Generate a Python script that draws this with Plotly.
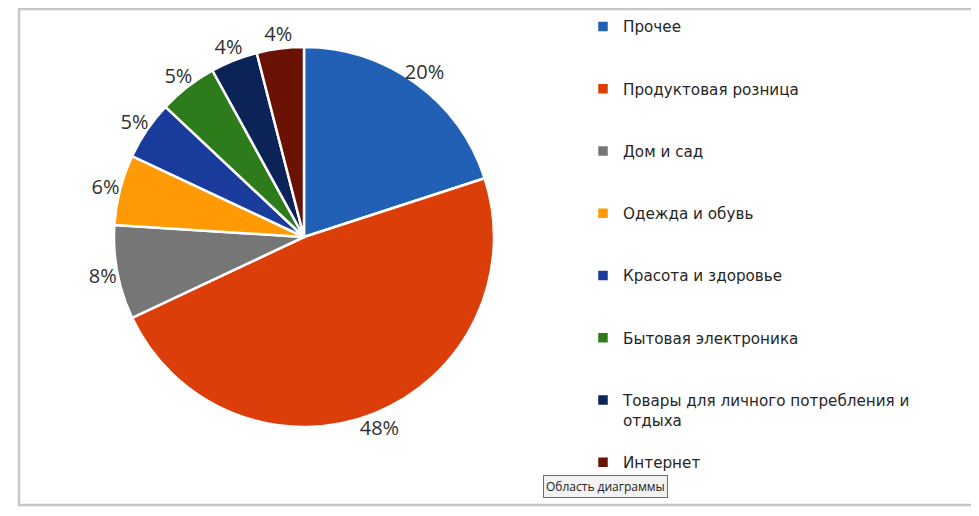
import plotly.graph_objects as go

categories = ['Прочее', 'Продуктовая розница', 'Дом и сад', 'Одежда и обувь',
              'Красота и здоровье', 'Бытовая электроника',
              'Товары для личного потребления и отдыха', 'Интернет']
shares = [20, 48, 8, 6, 5, 5, 4, 4]
colors = ['#2160b4', '#dc3e0a', '#767676', '#ff9a05',
          '#183b9c', '#2e7b1c', '#0b2357', '#6a1304']

W, H = 979, 516
# the page adds an 8px body margin, so everything is placed 8px up/left
cx, cy, r = 296, 229, 190      # pie centre and radius in figure pixels
r_txt = 229                    # outer radius of the ring that carries the % labels

# legend labels: wrap the long one, pad every entry to three lines
legend_labels = []
for i, c in enumerate(categories):
    if c.startswith('Товары'):
        txt = 'Товары для личного потребления и<br>отдыха'
    else:
        txt = c + '<br> '
    if i < len(categories) - 1:
        txt += '<br> '
    legend_labels.append(txt)

fig = go.Figure()
fig.add_trace(go.Pie(
    labels=legend_labels,
    values=shares,
    sort=False,
    direction='clockwise',
    rotation=0,
    marker=dict(colors=colors, line=dict(color='white', width=2.5)),
    textinfo='none',
    domain=dict(x=[(cx - r) / W, (cx + r) / W], y=[1 - (cy + r) / H, 1 - (cy - r) / H]),
    hoverinfo='label+percent',
))

# transparent ring around the pie, used only to place the percentage labels
fig.add_trace(go.Pie(
    labels=categories,
    values=shares,
    sort=False,
    direction='clockwise',
    rotation=0,
    hole=0.79,
    showlegend=False,
    marker=dict(colors=['rgba(0,0,0,0)'] * len(shares), line=dict(width=0)),
    textposition='inside',
    insidetextorientation='horizontal',
    texttemplate='%{percent:.0%}',
    textfont=dict(size=20, color='#303030', family='Open Sans'),
    domain=dict(x=[(cx - r_txt) / W, (cx + r_txt) / W], y=[1 - (cy + r_txt) / H, 1.0]),
    hoverinfo='skip',
))

fig.update_layout(
    width=W, height=H,
    margin=dict(l=0, r=0, t=0, b=0),
    paper_bgcolor='white',
    font=dict(family='Open Sans', color='#333333'),
    legend=dict(x=575 / W, y=1 - 2 / H, xanchor='left', yanchor='top',
                valign='top', maxheight=1.0,
                font=dict(size=15.2, color='#262626', family='DejaVu Sans'),
                bgcolor='rgba(0,0,0,0)'),
    shapes=[dict(type='rect', xref='paper', yref='paper',
                 x0=11 / W, x1=1.02, y0=1 - 497 / H, y1=1 - 1 / H,
                 line=dict(color='#c8c8c8', width=2.5))],
    annotations=[dict(text='Область диаграммы', xref='paper', yref='paper',
                      x=535 / W, y=1 - 478 / H, xanchor='left', yanchor='middle',
                      showarrow=False, font=dict(size=12, color='#222222'),
                      bgcolor='#f2f2f2', bordercolor='#6e6e6e', borderwidth=1,
                      borderpad=2)],
)

fig.write_html("out.html")
